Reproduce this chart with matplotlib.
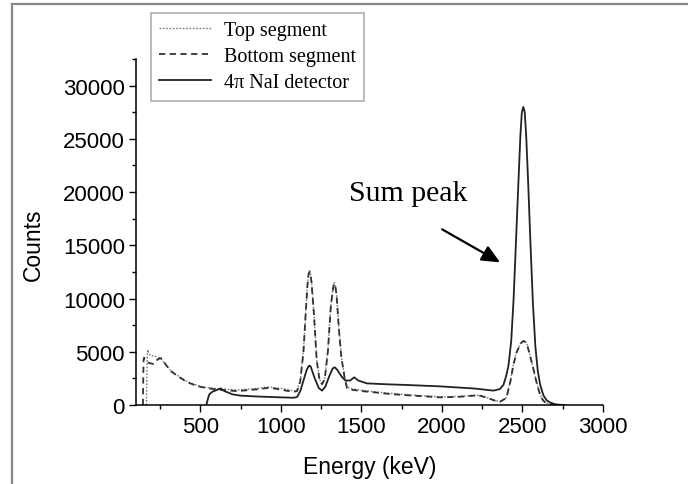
import matplotlib
matplotlib.use("Agg")
import matplotlib.pyplot as plt
from matplotlib.lines import Line2D
from matplotlib.ticker import MultipleLocator

# --- data (energy in keV, counts) ---
top_energy = [165, 167, 170, 173, 180, 195, 210, 230, 252, 280, 314, 360, 417, 460,
              500, 560, 603, 660, 727, 800, 872, 914, 960, 1000, 1050, 1080, 1100,
              1120, 1140, 1155, 1165, 1172, 1178, 1184, 1190, 1205, 1222, 1240,
              1255, 1272, 1292, 1310, 1324, 1330, 1336, 1345, 1360, 1375, 1395,
              1412, 1430, 1493, 1560, 1679, 1800, 1989, 2100, 2200, 2240, 2290,
              2330, 2361, 2400, 2425, 2444, 2465, 2490, 2503, 2510, 2518, 2530,
              2550, 2568, 2590, 2610, 2630, 2660, 2690, 2750]
top_counts = [0, 2500, 4600, 5190, 4800, 4600, 4650, 4500, 4400, 3900, 3250, 2750,
              2200, 1950, 1750, 1600, 1530, 1480, 1420, 1500, 1580, 1700, 1620, 1560,
              1420, 1320, 1380, 2300, 5200, 9000, 11400, 12400, 12600, 12300, 11600,
              8600, 4300, 2400, 2000, 2500, 5200, 9400, 11100, 11500, 11400, 10500,
              7200, 4600, 2700, 1700, 1550, 1400, 1280, 1080, 950, 760, 800, 920,
              900, 650, 420, 330, 700, 2300, 3900, 5100, 5850, 6030, 6050, 5950,
              5650, 4500, 3400, 2000, 950, 400, 110, 20, 0]

bottom_energy = [143, 145, 147, 150, 160, 180, 210, 235, 255, 280, 314, 360, 417,
                 460, 500, 560, 603, 650, 727, 800, 872, 914, 960, 1000, 1050, 1080,
                 1100, 1120, 1140, 1155, 1165, 1172, 1178, 1184, 1190, 1205, 1222,
                 1240, 1255, 1272, 1292, 1310, 1324, 1330, 1336, 1345, 1360, 1375,
                 1395, 1410, 1430, 1493, 1560, 1679, 1800, 1989, 2100, 2200, 2240,
                 2290, 2330, 2361, 2400, 2425, 2444, 2465, 2490, 2503, 2510, 2518,
                 2530, 2550, 2568, 2590, 2610, 2630, 2660, 2690, 2750]
bottom_counts = [0, 2500, 4200, 4450, 4200, 3950, 3850, 4300, 4400, 3900, 3200,
                 2700, 2150, 1900, 1700, 1550, 1450, 1400, 1300, 1400, 1500, 1600,
                 1550, 1450, 1300, 1250, 1300, 2200, 5000, 8900, 11300, 12300, 12500,
                 12200, 11500, 8500, 4200, 2300, 1950, 2400, 5100, 9300, 11000,
                 11400, 11300, 10400, 7100, 4500, 2600, 1600, 1450, 1320, 1220, 1030,
                 900, 720, 760, 880, 860, 620, 400, 310, 650, 2200, 3800, 5000, 5800,
                 5980, 6000, 5900, 5600, 4450, 3350, 1950, 900, 380, 100, 15, 0]

nai_energy = [537, 545, 555, 575, 600, 624, 650, 700, 748, 850, 996, 1079, 1100,
              1120, 1140, 1160, 1172, 1178, 1185, 1194, 1210, 1235, 1255, 1275,
              1300, 1320, 1330, 1336, 1350, 1375, 1400, 1430, 1455, 1480, 1534,
              1650, 1782, 1989, 2200, 2320, 2360, 2382, 2400, 2413, 2430, 2445,
              2460, 2475, 2487, 2496, 2505, 2514, 2523, 2535, 2550, 2565, 2580,
              2595, 2610, 2630, 2650, 2670, 2700, 2730, 2760]
nai_counts = [0, 500, 1000, 1250, 1400, 1560, 1300, 1000, 880, 800, 720, 680, 750,
              1300, 2300, 3300, 3650, 3700, 3600, 3200, 2500, 1600, 1350, 1700,
              2700, 3400, 3530, 3520, 3300, 2700, 2300, 2300, 2600, 2300, 2030,
              1950, 1880, 1750, 1550, 1350, 1500, 1900, 2800, 3700, 6000, 10000,
              15500, 21000, 25300, 27500, 28000, 27500, 25300, 21000, 15000, 9500,
              5500, 3200, 1900, 900, 450, 250, 80, 20, 0]

series_labels = ["Top segment", "Bottom segment", "4\u03c0 NaI detector"]

plt.rcParams["font.family"] = ["Liberation Sans", "DejaVu Sans"]
plt.rcParams["lines.scale_dashes"] = False

fig = plt.figure(figsize=(6.88, 4.85), dpi=100)
ax = fig.add_axes([136 / 688, 1 - 406 / 485, 467 / 688, 346 / 485])

ax.plot(top_energy, top_counts, color="#7a7a7a", lw=1.0, ls=(0, (1.2, 1.2)),
        label=series_labels[0])
ax.plot(bottom_energy, bottom_counts, color="#333333", lw=1.3, ls=(0, (4.5, 3.2)),
        label=series_labels[1])
ax.plot(nai_energy, nai_counts, color="#222222", lw=1.3, label=series_labels[2])

ax.set_xlim(100, 3000)
ax.set_ylim(0, 32500)
ax.xaxis.set_major_locator(MultipleLocator(500))
ax.xaxis.set_minor_locator(MultipleLocator(250))
ax.yaxis.set_major_locator(MultipleLocator(5000))
ax.yaxis.set_minor_locator(MultipleLocator(2500))
ax.set_xticks([500, 1000, 1500, 2000, 2500, 3000])

for side in ("top", "right"):
    ax.spines[side].set_visible(False)
for side in ("left", "bottom"):
    ax.spines[side].set_linewidth(1.1)
ax.tick_params(which="major", direction="out", length=5, width=1.0,
               labelsize=16, pad=3)
ax.tick_params(which="minor", direction="out", length=3, width=1.0)

fig.text(370 / 688, 1 - 468 / 485, "Energy (keV)", ha="center", va="center",
         fontsize=16.5)
fig.text(33 / 688, 1 - 245 / 485, "Counts", ha="center", va="center",
         rotation=90, fontsize=16.5)

leg = ax.legend(loc="upper left", bbox_to_anchor=(151 / 688, 1 - 14 / 485),
                bbox_transform=fig.transFigure, borderaxespad=0, fancybox=False,
                frameon=True, handlelength=2.6, handletextpad=0.6,
                labelspacing=0.35, borderpad=0.4,
                prop={"family": "Liberation Serif", "size": 14.5})
leg.get_frame().set_edgecolor("#9a9a9a")
leg.get_frame().set_linewidth(1.2)

ax.text(1793, 19230, "Sum peak", family="Liberation Serif", fontsize=21.5,
        ha="center", va="baseline")
ax.annotate("", xy=(2361, 13400), xytext=(2001, 16500),
            arrowprops=dict(arrowstyle="-|>,head_length=0.55,head_width=0.25",
                            mutation_scale=20, lw=1.6, color="black",
                            shrinkA=0, shrinkB=0))

# grey frame around the figure (top and left edges only)
fig.add_artist(Line2D([12 / 688, 12 / 688], [0, 1 - 5 / 485],
                      transform=fig.transFigure, color="#888888", lw=1.6))
fig.add_artist(Line2D([12 / 688, 1], [1 - 5 / 485, 1 - 5 / 485],
                      transform=fig.transFigure, color="#888888", lw=1.6))

fig.savefig("out.png", dpi=100)
